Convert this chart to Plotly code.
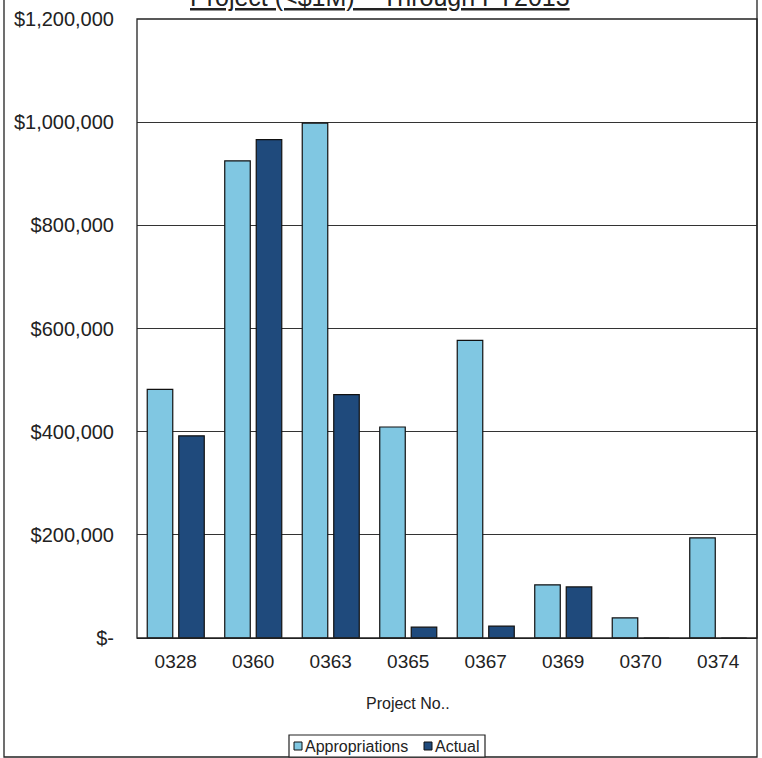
import plotly.graph_objects as go

# Project numbers and dollar amounts (through FY2013)
projects = ["0328", "0360", "0363", "0365", "0367", "0369", "0370", "0374"]
appropriations = [482000, 925000, 998000, 409000, 577000, 103000, 39000, 194000]
actual = [392000, 966000, 472000, 21000, 23000, 99000, 0, 0]

y_ticks = [0, 200000, 400000, 600000, 800000, 1000000, 1200000]
y_tick_text = ["$-", "$200,000", "$400,000", "$600,000", "$800,000", "$1,000,000", "$1,200,000"]

FONT = "Liberation Sans, Arial, sans-serif"
LIGHT = "#80c7e2"
DARK = "#1f4a7c"

fig = go.Figure()
fig.add_trace(go.Bar(
    name="Appropriations", x=projects, y=appropriations,
    marker=dict(color=LIGHT, line=dict(color="#111111", width=1.2)),
))
fig.add_trace(go.Bar(
    name="Actual", x=projects, y=actual,
    marker=dict(color=DARK, line=dict(color="#111111", width=1.2)),
))

W, H = 762, 758
L, R, T, B = 137, 5, 19, 120
pw = W - L - R
ph = H - T - B

fig.update_layout(
    width=W, height=H,
    margin=dict(l=L, r=R, t=T, b=B, pad=0),
    paper_bgcolor="white", plot_bgcolor="white",
    barmode="group", bargap=0.187, bargroupgap=0.19,
    showlegend=False,
    font=dict(family=FONT, color="#222222"),
    xaxis=dict(
        type="category", showgrid=False, showline=True, linecolor="#222222", linewidth=1.2,
        ticks="outside", ticklen=6, tickcolor="rgba(0,0,0,0)",
        tickfont=dict(size=19, family=FONT, color="#222222"),
    ),
    yaxis=dict(
        range=[0, 1200000], tickvals=y_ticks, ticktext=y_tick_text,
        showgrid=True, gridcolor="#333333", gridwidth=1,
        showline=False, zeroline=False,
        ticks="outside", ticklen=18, tickcolor="rgba(0,0,0,0)",
        tickfont=dict(size=20, family=FONT, color="#222222"),
    ),
)

# plot-area frame
fig.add_shape(type="rect", xref="paper", yref="paper", x0=0, x1=1, y0=0, y1=1,
              line=dict(color="#222222", width=1.3), layer="above")

# outer chart border
fig.add_shape(type="rect", xref="paper", yref="paper",
              x0=(4 - L) / pw, x1=(757 - L) / pw,
              y0=(T + ph - 757) / ph, y1=(T + ph + 30) / ph,
              line=dict(color="#222222", width=1.3), layer="above")

# title (runs past the top edge of the chart)
fig.add_annotation(
    xref="paper", yref="paper", x=(380 - L) / pw, y=1, yshift=6,
    xanchor="center", yanchor="bottom",
    text="<u>Project (<$1M) – Through FY2013</u>",
    showarrow=False, font=dict(size=25, family=FONT, color="#222222"),
)

# axis title
fig.add_annotation(
    xref="paper", yref="paper", x=(408 - L) / pw, y=(T + ph - 703) / ph,
    xanchor="center", yanchor="middle", text="Project No..",
    showarrow=False, font=dict(size=16, family=FONT, color="#222222"),
)

# legend box
lx0, lx1, ly0, ly1 = 289, 485, 735, 757
fig.add_shape(type="rect", xref="paper", yref="paper",
              x0=(lx0 - L) / pw, x1=(lx1 - L) / pw,
              y0=(T + ph - ly1) / ph, y1=(T + ph - ly0) / ph,
              line=dict(color="#222222", width=1.2), fillcolor="white")
for sx, color, label, tx in [(294, LIGHT, "Appropriations", 303), (424, DARK, "Actual", 433)]:
    fig.add_shape(type="rect", xref="paper", yref="paper",
                  x0=(sx - L) / pw, x1=(sx + 8 - L) / pw,
                  y0=(T + ph - 750) / ph, y1=(T + ph - 742) / ph,
                  line=dict(color="#111111", width=1), fillcolor=color)
    fig.add_annotation(xref="paper", yref="paper", x=(tx - L) / pw, y=(T + ph - 746) / ph,
                       xanchor="left", yanchor="middle", text=label, showarrow=False,
                       font=dict(size=16, family=FONT, color="#222222"))

fig.write_html("out.html")
